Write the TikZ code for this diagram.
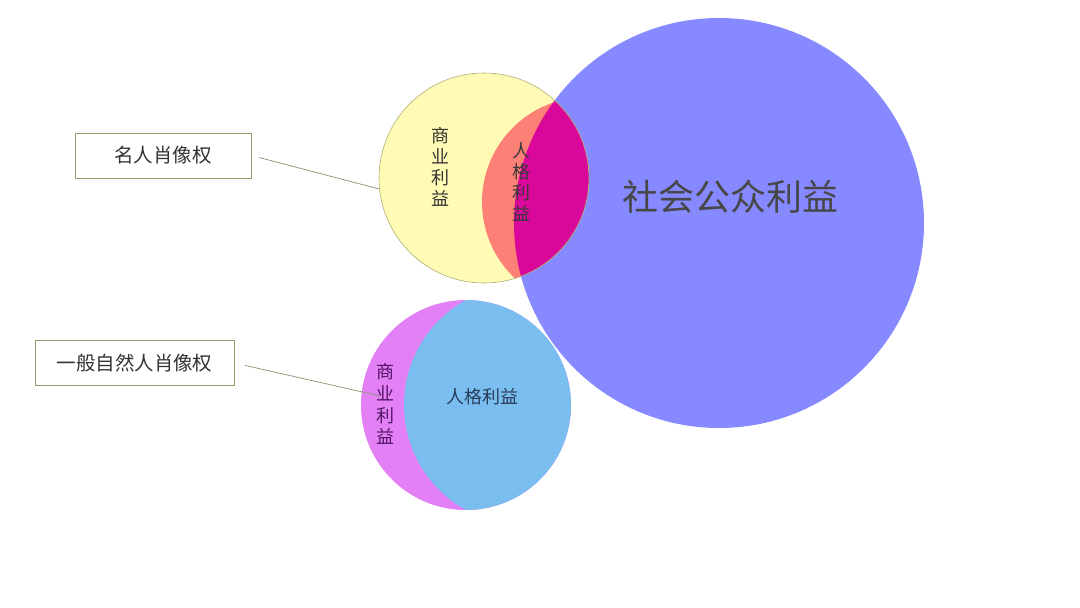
\documentclass[tikz,border=0pt]{standalone}
\usepackage{fontspec}
\setmainfont{Noto Sans CJK SC}
\begin{document}
\begin{tikzpicture}[x=1pt,y=-1pt,
  lbl/.style={inner sep=0pt, align=center},
  vert/.style={lbl, font=\fontsize{18}{21}\selectfont},
  boxlbl/.style={draw=boxline, line width=0.8pt, minimum height=45pt, inner sep=0pt, font=\fontsize{19.5}{22}\selectfont, text=black!80},
  conn/.style={draw=lineclr, line width=0.7pt}]
\definecolor{bigblue}{RGB}{134,137,255}
\definecolor{yel}{RGB}{255,251,181}
\definecolor{salmon}{RGB}{252,128,118}
\definecolor{mag}{RGB}{218,8,154}
\definecolor{violet}{RGB}{228,128,245}
\definecolor{lblue}{RGB}{122,190,240}
\definecolor{boxline}{RGB}{140,160,110}
\definecolor{lineclr}{RGB}{130,150,110}
\definecolor{yelline}{RGB}{175,175,120}
\useasboundingbox (0,0) rectangle (1080,608);
\fill[white] (0,0) rectangle (1080,608);
% big public-interest circle
\fill[bigblue] (719,223) circle (205);
% top (celebrity) circle
\fill[yel] (484,178) circle (105);
\begin{scope}
  \clip (484,178) circle (105);
  \fill[salmon] (587,202) circle (105);
  \clip (719,223) circle (205);
  \fill[mag] (484,178) circle (105);
\end{scope}
\node[circle, draw=yelline, line width=0.6pt, minimum size=210pt, inner sep=0pt] (yelc) at (484,178) {};
% bottom (ordinary person) circle
\fill[violet] (466,405) circle (105);
\begin{scope}
  \clip (466,405) circle (105);
  \fill[lblue] (524,405) circle (120);
\end{scope}
\node[circle, minimum size=210pt, inner sep=0pt] (vioc) at (466,405) {};
% texts
\node[lbl, font=\fontsize{36}{40}\selectfont, text=black!72] (pub) at (730,197) {社会公众利益};
\node[vert, text=black!80] (com1) at (440,167) {商\\业\\利\\益};
\node[vert, text=black!78] (per1) at (521,182) {人\\格\\利\\益};
\node[vert, text={rgb,255:red,80;green,20;blue,100}, font=\fontsize{18}{21.7}\selectfont] (com2) at (385,404) {商\\业\\利\\益};
\node[lbl, font=\fontsize{18}{21}\selectfont, text={rgb,255:red,40;green,60;blue,90}] (per2) at (482,397) {人格利益};
% boxes
\node[boxlbl, minimum width=176pt] (box1) at (163,155.5) {名人肖像权};
\node[boxlbl, minimum width=199pt] (box2) at (134.5,363) {一般自然人肖像权};
\coordinate (end2) at (380,396);
\draw[conn, shorten <=8pt] (box1.east) -- (yelc.186);
\draw[conn, shorten <=11pt] (box2.east) -- (end2);
\end{tikzpicture}
\end{document}
